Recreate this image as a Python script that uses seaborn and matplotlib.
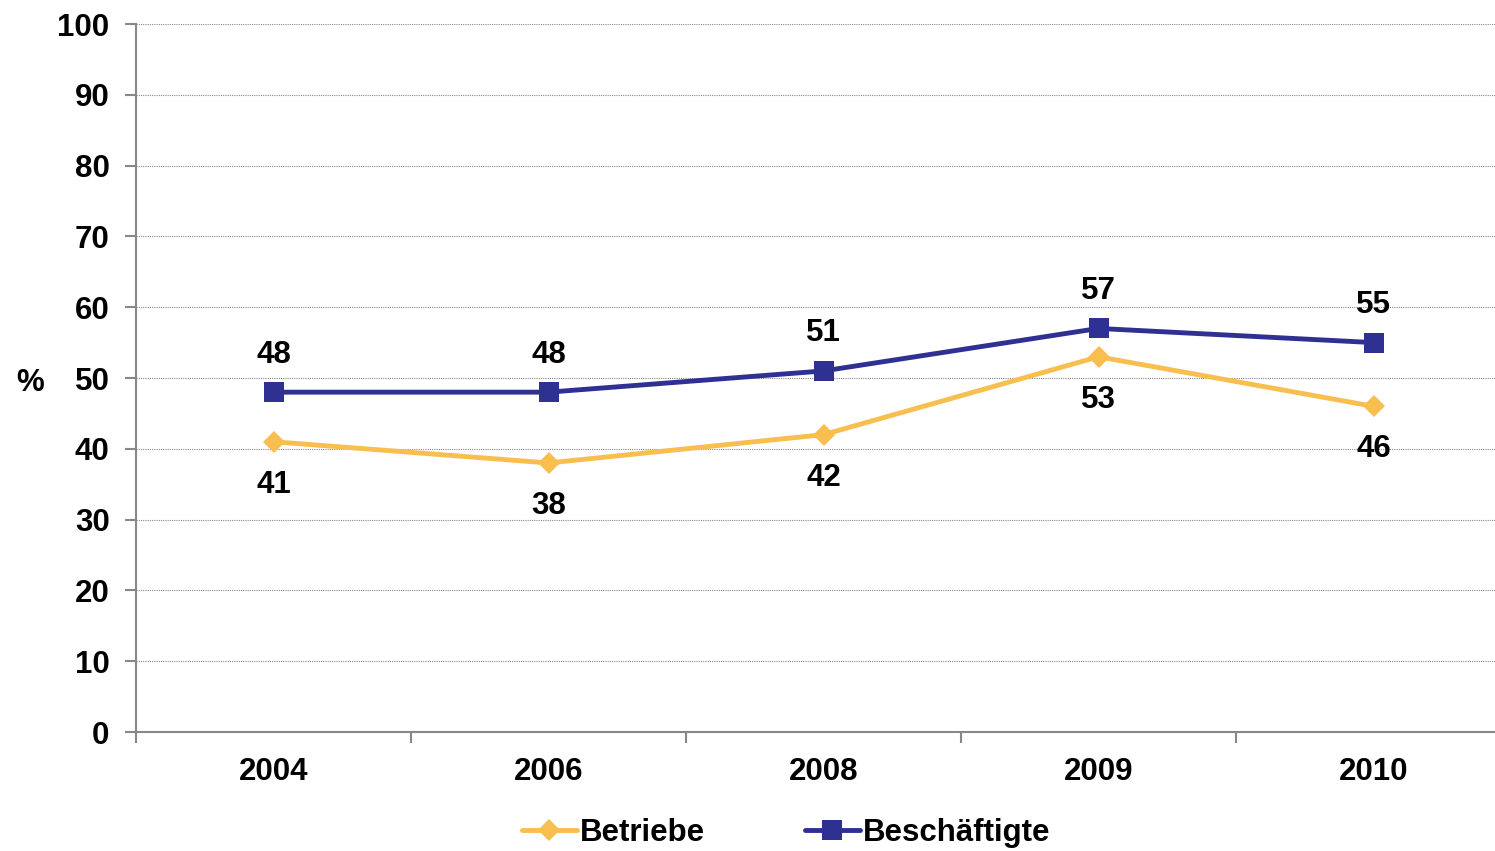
import matplotlib
matplotlib.use("Agg")
import matplotlib.pyplot as plt
import seaborn as sns
import pandas as pd
import numpy as np

years = ["2004", "2006", "2008", "2009", "2010"]
betriebe = [41, 38, 42, 53, 46]
beschaeftigte = [48, 48, 51, 57, 55]
series_names = ["Betriebe", "Beschäftigte"]
colors = {"Betriebe": "#F8BE50", "Beschäftigte": "#2E3192"}

sns.set_style("white")
plt.rcParams["font.family"] = ["Liberation Sans", "DejaVu Sans"]
plt.rcParams["font.weight"] = "bold"
plt.rcParams["text.color"] = "black"
plt.rcParams["axes.labelcolor"] = "black"
plt.rcParams["xtick.color"] = "black"
plt.rcParams["ytick.color"] = "black"

FS = 22.5

pos = np.arange(len(years))
df = pd.DataFrame({
    "pos": np.concatenate([pos, pos]),
    "value": betriebe + beschaeftigte,
    "series": [series_names[0]] * len(years) + [series_names[1]] * len(years),
})

fig = plt.figure(figsize=(14.95, 8.51), dpi=100)
left = 136 / 1495
bottom = (851 - 732) / 851
top = (851 - 24) / 851
ax = fig.add_axes([left, bottom, 1.0 - left, top - bottom])

sns.lineplot(data=df, x="pos", y="value", hue="series", style="series",
             hue_order=series_names, style_order=series_names,
             markers={"Betriebe": "D", "Beschäftigte": "s"}, dashes=False,
             palette=colors, linewidth=3.5, markeredgewidth=0, ax=ax,
             legend=False)
for line, name in zip(ax.lines, series_names):
    line.set_markersize(11 if name == "Betriebe" else 14)

ax.set_ylim(0, 100)
ax.set_xlim(-0.5, -0.5 + (1495 - 136) / 275)
ax.set_yticks(range(0, 101, 10))
ax.set_yticklabels([str(v) for v in range(0, 101, 10)], fontsize=FS, fontweight="bold")
ax.set_xticks(np.arange(-0.5, 4.0, 1.0))
ax.set_xticklabels([])
ax.set_xticks(pos, minor=True)
ax.set_xticklabels(years, minor=True, fontsize=FS, fontweight="bold")
ax.tick_params(axis="x", which="major", bottom=True, length=8, width=1.5, color="#888888", direction="out")
ax.tick_params(axis="x", which="minor", bottom=True, length=0, pad=18, labelcolor="black")
ax.tick_params(axis="y", left=True, length=8, width=1.5, color="#888888", direction="out", pad=11, labelcolor="black")
ax.grid(axis="y", linestyle=(0, (1, 1)), color="#888888", linewidth=0.8)
ax.set_axisbelow(True)
for s in ["top", "right"]:
    ax.spines[s].set_visible(False)
for s in ["left", "bottom"]:
    ax.spines[s].set_color("#888888")
    ax.spines[s].set_linewidth(1.5)
ax.set_xlabel("")
ax.set_ylabel("%", rotation=0, fontsize=FS, fontweight="bold", va="center", color="black")
ax.yaxis.set_label_coords(-0.078, 0.493)

for x, v in zip(pos, beschaeftigte):
    ax.annotate(str(v), (x, v), xytext=(0, 27), textcoords="offset points",
                ha="center", va="center", fontsize=FS, fontweight="bold", color="black")
for x, v in zip(pos, betriebe):
    ax.annotate(str(v), (x, v), xytext=(0, -31), textcoords="offset points",
                ha="center", va="center", fontsize=FS, fontweight="bold", color="black")

from matplotlib.lines import Line2D
handles = [
    Line2D([], [], color=colors["Betriebe"], marker="D", markersize=11, linewidth=3.5, markeredgewidth=0),
    Line2D([], [], color=colors["Beschäftigte"], marker="s", markersize=14, linewidth=3.5, markeredgewidth=0),
]
fig.legend(handles, series_names, loc="center", bbox_to_anchor=(786 / 1495, 1 - 833 / 851),
           ncol=2, frameon=False, prop={"size": FS, "weight": "bold"},
           handlelength=1.75, handletextpad=0.1, columnspacing=3.2, labelcolor="black")

fig.savefig("out.png", dpi=100)
